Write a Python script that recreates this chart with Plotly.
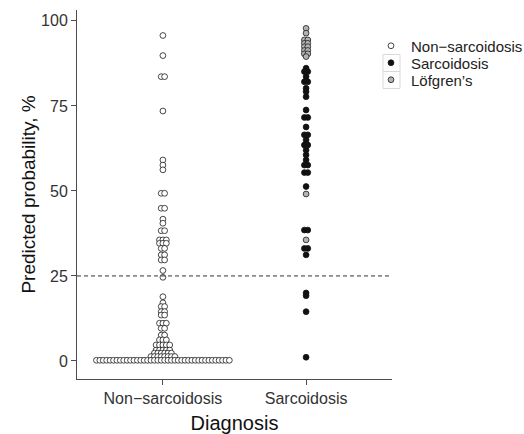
import plotly.graph_objects as go

# ---- data ----
categories = ["Non−sarcoidosis", "Sarcoidosis"]
y_ticks = [0, 25, 50, 75, 100]

# Non-sarcoidosis: predicted probability bins (%) and number of patients per bin
non_sarc_values = [95.7, 89.8, 83.6, 73.5, 59.1, 57.6, 56.2, 49.3, 44.9, 41.7, 40.5,
                   38.3, 35.6, 34.6, 33.1, 31.2, 29.7, 26.6, 24.6, 18.9, 17.1, 16.0,
                   14.5, 13.5, 11.1, 9.6, 7.6, 6.2, 4.7, 3.2, 2.3, 1.3, 0.2]
non_sarc_counts = [1, 1, 2, 1, 1, 1, 1, 2, 2, 1, 1,
                   2, 3, 3, 2, 2, 2, 1, 1, 1, 1, 2,
                   2, 2, 3, 2, 2, 3, 5, 5, 6, 8, 40]

# Sarcoidosis (non-Löfgren)
sarc_values = [86.1, 85.1, 83.6, 82.1, 80.2, 79.2, 77.7, 73.8, 71.6, 68.8, 66.5, 65.0,
               63.5, 62.0, 60.6, 59.1, 57.6, 55.4, 51.3, 38.5, 33.1, 31.2, 20.0, 19.2,
               14.5, 1.1]
sarc_counts = [1, 2, 1, 2, 1, 1, 1, 1, 2, 1, 2, 1,
               2, 1, 1, 1, 2, 2, 1, 2, 2, 1, 1, 1,
               1, 1]

# Löfgren's syndrome
lofgren_values = [97.8, 96.4, 94.4, 93.4, 92.4, 91.3, 90.3, 89.5, 49.1, 35.6]
lofgren_counts = [1, 1, 2, 2, 2, 2, 2, 1, 1, 1]

series_names = ["Non−sarcoidosis", "Sarcoidosis", "Löfgren’s"]
threshold = 25

# ---- dot-stacking (centered horizontal stacks within each bin) ----
SPACING = 0.0238  # horizontal spacing between stacked dots, x-axis units


def stack(values, counts, center):
    xs, ys = [], []
    for v, n in zip(values, counts):
        for i in range(n):
            xs.append(center + (i - (n - 1) / 2) * SPACING)
            ys.append(v)
    return xs, ys


W, H = 524, 434
ML, MR, MT, MB = 77, 132, 10, 55

fig = go.Figure()

x1, y1 = stack(non_sarc_values, non_sarc_counts, 1)
x2, y2 = stack(sarc_values, sarc_counts, 2)
x3, y3 = stack(lofgren_values, lofgren_counts, 2)

styles = [
    dict(size=5.8, color="white", line=dict(color="#1a1a1a", width=0.8)),
    dict(size=5.8, color="#111111", line=dict(color="#111111", width=0.8)),
    dict(size=5.8, color="#b3b3b3", line=dict(color="#1a1a1a", width=0.8)),
]
legend_ids = ["legend", "legend2", "legend3"]
for (xs, ys), name, st, lg in zip([(x1, y1), (x2, y2), (x3, y3)], series_names, styles, legend_ids):
    fig.add_trace(go.Scatter(x=xs, y=ys, name=name, mode="markers", hoverinfo="skip",
                             marker=st, legend=lg))

fig.add_hline(y=threshold, line=dict(color="#333333", width=1, dash="4px,3px"))

font_family = "Liberation Sans, Arial, Helvetica, sans-serif"

# legend placement (one legend per key, stacked like ggplot keys)
key_centers_px = [46, 63, 80]
legend_left_px = 371
legend_common = dict(xref="container", yref="container", xanchor="left", yanchor="middle",
                     font=dict(size=15, color="#222222", family=font_family),
                     itemwidth=30, bgcolor="rgba(0,0,0,0)", borderwidth=0)
legends = {}
for lg, cy in zip(legend_ids, key_centers_px):
    legends[lg] = dict(x=legend_left_px / W, y=1 - cy / H, **legend_common)

# light grey key boxes
plot_w, plot_h = W - ML - MR, H - MT - MB
shapes = []
for cy in key_centers_px:
    x0p, x1p = 383, 400
    y0p, y1p = cy - 8.5, cy + 8.5
    shapes.append(dict(type="rect", xref="paper", yref="paper",
                       x0=(x0p - ML) / plot_w, x1=(x1p - ML) / plot_w,
                       y0=(H - MB - y1p) / plot_h, y1=(H - MB - y0p) / plot_h,
                       line=dict(color="#d9d9d9", width=1), fillcolor="rgba(0,0,0,0)",
                       layer="below"))

fig.update_layout(
    width=W, height=H,
    margin=dict(l=ML, r=MR, t=MT, b=MB, autoexpand=False),
    paper_bgcolor="white", plot_bgcolor="white",
    font=dict(family=font_family, color="#333333"),
    showlegend=True,
    shapes=shapes,
    xaxis=dict(range=[0.4, 2.6], tickvals=[1, 2], ticktext=categories, automargin=False,
               showgrid=False, zeroline=False, showline=True, linecolor="#4d4d4d",
               linewidth=1, ticks="outside", ticklen=5, tickcolor="#4d4d4d",
               tickfont=dict(size=16, color="#333333"),
               title=dict(text="Diagnosis", font=dict(size=20, color="#111111"))),
    yaxis=dict(range=[-5.3, 103.2], tickvals=y_ticks, automargin=False,
               showgrid=False, zeroline=False, showline=True, linecolor="#4d4d4d",
               linewidth=1, ticks="outside", ticklen=5, tickcolor="#4d4d4d",
               tickfont=dict(size=16, color="#333333"),
               title=dict(text="Predicted probability, %", standoff=0,
                          font=dict(size=19, color="#111111"))),
    **legends,
)

fig.write_html("out.html")
